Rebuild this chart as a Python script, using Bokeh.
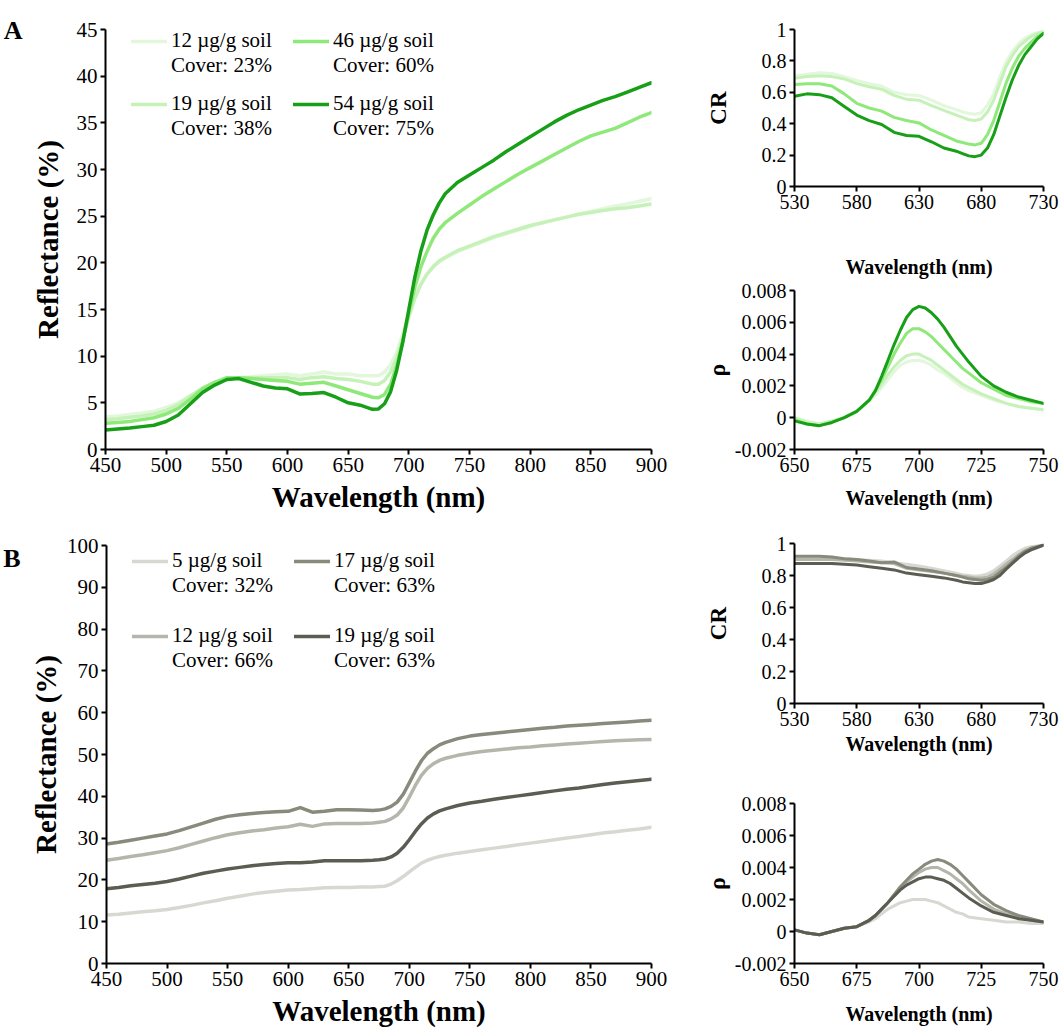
from bokeh.plotting import figure
from bokeh.models import Range1d, FixedTicker, Legend, LegendItem, LinearAxis
from bokeh.layouts import row, column
from bokeh.embed import file_html
from bokeh.resources import INLINE

FONT = "Liberation Serif"

# ---------------- data ----------------
wl = [450, 460, 470, 480, 490, 500, 510, 520, 530, 540, 550, 560, 570, 580, 590, 600, 610, 620, 630, 640, 650, 660, 670,
      675, 680, 685, 690, 695, 700, 705, 710, 715, 720, 725, 730,
      740, 750, 760, 770, 780, 790, 800, 810, 820, 830, 840, 850, 860, 870, 880, 890, 900]

a_names = ["12 µg/g soil", "19 µg/g soil", "46 µg/g soil", "54 µg/g soil"]
a_covers = ["Cover: 23%", "Cover: 38%", "Cover: 60%", "Cover: 75%"]
a_colors = ["#e2f7dc", "#c6f2b9", "#8fe97a", "#17a017"]

refl_a_12 = [3.5, 3.6, 3.75, 3.9, 4.1, 4.5, 5.0, 5.8, 6.6, 7.1, 7.5, 7.7, 7.8, 7.9, 8.0, 8.1, 7.9, 8.1, 8.3, 8.1, 8.1, 7.9, 7.9,
             7.9, 8.3, 9.1, 10.4, 12.4, 14.5, 16.4, 17.8, 18.8, 19.5, 20.1, 20.5,
             21.2, 21.7, 22.2, 22.7, 23.1, 23.5, 23.9, 24.3, 24.6, 24.9, 25.2, 25.5, 25.8, 26.1, 26.3, 26.6, 26.9]
refl_a_19 = [3.2, 3.3, 3.45, 3.6, 3.8, 4.2, 4.8, 5.7, 6.6, 7.2, 7.5, 7.7, 7.7, 7.7, 7.7, 7.7, 7.5, 7.7, 7.8, 7.6, 7.5, 7.3, 7.0,
             7.0, 7.4, 8.3, 9.8, 11.9, 14.2, 16.2, 17.7, 18.8, 19.6, 20.2, 20.6,
             21.3, 21.8, 22.3, 22.8, 23.2, 23.6, 24.0, 24.3, 24.6, 24.9, 25.2, 25.4, 25.6, 25.8, 25.9, 26.1, 26.3]
refl_a_46 = [2.8, 2.9, 3.0, 3.2, 3.4, 3.8, 4.4, 5.4, 6.5, 7.2, 7.7, 7.7, 7.6, 7.5, 7.4, 7.3, 7.0, 7.1, 7.2, 6.8, 6.4, 6.0, 5.6,
             5.55, 5.9, 7.0, 9.0, 11.6, 14.6, 17.4, 19.6, 21.2, 22.6, 23.6, 24.3,
             25.3, 26.2, 27.1, 27.9, 28.7, 29.5, 30.2, 30.9, 31.6, 32.3, 33.0, 33.6, 34.0, 34.4, 35.0, 35.6, 36.1]
refl_a_54 = [2.1, 2.2, 2.3, 2.45, 2.6, 3.0, 3.7, 4.9, 6.1, 6.9, 7.5, 7.6, 7.2, 6.8, 6.6, 6.5, 5.95, 6.0, 6.1, 5.6, 5.0, 4.75, 4.3,
             4.35, 4.9, 6.2, 8.5, 11.5, 15.0, 18.5, 21.3, 23.5, 25.1, 26.4, 27.4,
             28.6, 29.4, 30.2, 31.0, 31.9, 32.7, 33.5, 34.3, 35.1, 35.8, 36.4, 36.9, 37.4, 37.8, 38.3, 38.8, 39.3]

b_names = ["5 µg/g soil", "12 µg/g soil", "17 µg/g soil", "19 µg/g soil"]
b_covers = ["Cover: 32%", "Cover: 66%", "Cover: 63%", "Cover: 63%"]
b_colors = ["#d8d8d2", "#b5b6ab", "#888a7b", "#5b5d52"]

refl_b_5 = [11.6, 11.8, 12.1, 12.4, 12.6, 12.9, 13.4, 13.9, 14.5, 15.0, 15.6, 16.1, 16.6, 17.0, 17.3, 17.6, 17.7, 17.9, 18.1, 18.2, 18.2, 18.3, 18.3,
            18.4, 18.5, 19.0, 19.8, 20.8, 21.9, 23.0, 24.0, 24.7, 25.2, 25.6, 25.9,
            26.4, 26.8, 27.2, 27.6, 28.0, 28.4, 28.8, 29.2, 29.6, 30.0, 30.4, 30.8, 31.2, 31.5, 31.9, 32.2, 32.6]
refl_b_12 = [24.7, 25.1, 25.6, 26.0, 26.5, 27.0, 27.7, 28.5, 29.3, 30.1, 30.8, 31.3, 31.7, 32.0, 32.4, 32.7, 33.3, 32.8, 33.4, 33.5, 33.5, 33.5, 33.6,
             33.8, 34.0, 34.6, 35.5, 37.2, 39.8, 42.6, 45.0, 46.7, 47.8, 48.6, 49.1,
             49.8, 50.3, 50.7, 51.0, 51.3, 51.6, 51.8, 52.1, 52.3, 52.5, 52.7, 52.9, 53.1, 53.3, 53.4, 53.5, 53.6]
refl_b_17 = [28.6, 29.0, 29.5, 30.0, 30.5, 31.0, 31.8, 32.7, 33.6, 34.5, 35.2, 35.6, 35.9, 36.1, 36.3, 36.4, 37.3, 36.2, 36.4, 36.8, 36.8, 36.7, 36.6,
             36.7, 37.0, 37.6, 38.6, 40.5, 43.2, 46.0, 48.5, 50.3, 51.4, 52.3, 52.9,
             53.8, 54.4, 54.8, 55.1, 55.4, 55.7, 56.0, 56.3, 56.5, 56.8, 57.0, 57.2, 57.4, 57.6, 57.8, 58.0, 58.2]
refl_b_19 = [17.9, 18.2, 18.6, 18.9, 19.2, 19.6, 20.2, 20.9, 21.6, 22.1, 22.6, 23.0, 23.4, 23.7, 23.9, 24.1, 24.1, 24.3, 24.6, 24.6, 24.6, 24.6, 24.7,
             24.8, 25.0, 25.5, 26.4, 27.8, 29.6, 31.6, 33.4, 34.8, 35.8, 36.5, 37.0,
             37.8, 38.4, 38.8, 39.3, 39.7, 40.1, 40.5, 40.9, 41.3, 41.7, 42.0, 42.4, 42.8, 43.2, 43.5, 43.8, 44.1]

wl_cr = [530, 540, 550, 560, 570, 580, 590, 600, 610, 620, 630, 640, 650,
         660, 665, 670, 675, 680, 685, 690, 695, 700, 705, 710, 715, 720, 725, 730]
cr_a_12 = [0.705, 0.715, 0.725, 0.72, 0.70, 0.675, 0.655, 0.64, 0.60, 0.585, 0.58, 0.55, 0.515,
           0.49, 0.475, 0.465, 0.46, 0.47, 0.52, 0.59, 0.70, 0.795, 0.86, 0.91, 0.945, 0.965, 0.98, 0.99]
cr_a_19 = [0.69, 0.70, 0.705, 0.70, 0.685, 0.655, 0.635, 0.62, 0.58, 0.555, 0.55, 0.515, 0.485,
           0.455, 0.44, 0.425, 0.42, 0.43, 0.475, 0.55, 0.66, 0.765, 0.835, 0.89, 0.925, 0.955, 0.975, 0.985]
cr_a_46 = [0.65, 0.655, 0.655, 0.64, 0.59, 0.53, 0.50, 0.48, 0.44, 0.42, 0.405, 0.36, 0.325,
           0.29, 0.28, 0.27, 0.265, 0.275, 0.33, 0.42, 0.54, 0.66, 0.755, 0.83, 0.88, 0.92, 0.955, 0.975]
cr_a_54 = [0.575, 0.59, 0.585, 0.565, 0.51, 0.455, 0.42, 0.395, 0.345, 0.325, 0.32, 0.285, 0.245,
           0.225, 0.21, 0.195, 0.19, 0.20, 0.245, 0.33, 0.45, 0.57, 0.68, 0.77, 0.84, 0.89, 0.94, 0.975]

cr_b_5 = [0.91, 0.91, 0.915, 0.91, 0.905, 0.90, 0.895, 0.89, 0.88, 0.87, 0.86, 0.845, 0.83,
          0.815, 0.805, 0.80, 0.795, 0.80, 0.81, 0.83, 0.86, 0.89, 0.925, 0.95, 0.97, 0.98, 0.985, 0.99]
cr_b_12 = [0.90, 0.90, 0.90, 0.90, 0.895, 0.89, 0.885, 0.88, 0.875, 0.845, 0.835, 0.825, 0.815,
           0.80, 0.795, 0.79, 0.785, 0.785, 0.79, 0.81, 0.84, 0.87, 0.90, 0.93, 0.955, 0.97, 0.98, 0.99]
cr_b_17 = [0.92, 0.92, 0.92, 0.915, 0.905, 0.90, 0.89, 0.88, 0.885, 0.85, 0.84, 0.83, 0.815,
           0.80, 0.79, 0.78, 0.775, 0.77, 0.775, 0.79, 0.82, 0.85, 0.885, 0.92, 0.95, 0.97, 0.98, 0.99]
cr_b_19 = [0.875, 0.875, 0.875, 0.875, 0.87, 0.865, 0.855, 0.845, 0.835, 0.815, 0.805, 0.795, 0.785,
           0.77, 0.76, 0.755, 0.75, 0.75, 0.76, 0.775, 0.80, 0.84, 0.875, 0.91, 0.94, 0.96, 0.975, 0.99]

wl_d = [650, 655, 660, 665, 670, 675, 680, 682.5, 685, 687.5, 690, 692.5, 695, 697.5, 700,
        702.5, 705, 707.5, 710, 712.5, 715, 717.5, 720, 725, 730, 735, 740, 745, 750]
d_a_12 = [0.0000, -0.0002, -0.0004, -0.0002, 0.0000, 0.0004, 0.0010, 0.0014, 0.0019, 0.0024, 0.0029, 0.0033, 0.0035, 0.0036, 0.0036,
          0.0035, 0.0033, 0.0030, 0.0028, 0.0025, 0.0022, 0.0019, 0.0017, 0.0014, 0.0011, 0.0009, 0.0007, 0.0006, 0.0005]
d_a_19 = [0.0000, -0.0003, -0.0004, -0.0002, 0.0000, 0.0004, 0.0011, 0.0016, 0.0021, 0.0027, 0.0032, 0.0036, 0.0039, 0.0040, 0.0040,
          0.0038, 0.0036, 0.0033, 0.0030, 0.0027, 0.0024, 0.0021, 0.0019, 0.0015, 0.0012, 0.0009, 0.0007, 0.0006, 0.0005]
d_a_46 = [-0.0001, -0.0004, -0.0005, -0.0003, 0.0000, 0.0004, 0.0011, 0.0017, 0.0024, 0.0032, 0.0040, 0.0047, 0.0053, 0.0056, 0.0056,
          0.0054, 0.0051, 0.0047, 0.0043, 0.0039, 0.0035, 0.0031, 0.0028, 0.0022, 0.0018, 0.0014, 0.0012, 0.0010, 0.0009]
d_a_54 = [-0.0002, -0.0004, -0.0005, -0.0003, 0.0000, 0.0004, 0.0011, 0.0017, 0.0026, 0.0036, 0.0046, 0.0055, 0.0063, 0.0068, 0.0070,
          0.0069, 0.0066, 0.0062, 0.0057, 0.0051, 0.0045, 0.0040, 0.0035, 0.0026, 0.0020, 0.0016, 0.0013, 0.0011, 0.0009]

d_b_5 = [0.0001, -0.0001, -0.0002, 0.0000, 0.0002, 0.0003, 0.0006, 0.0008, 0.0011, 0.0014, 0.0016, 0.0018, 0.0019, 0.0020, 0.0020,
         0.0020, 0.0019, 0.0018, 0.0016, 0.0014, 0.0012, 0.0011, 0.0009, 0.0008, 0.0007, 0.0006, 0.0006, 0.0005, 0.0005]
d_b_12 = [0.0001, -0.0001, -0.0002, 0.0000, 0.0002, 0.0003, 0.0007, 0.0010, 0.0014, 0.0018, 0.0023, 0.0027, 0.0031, 0.0034, 0.0037,
          0.0039, 0.0040, 0.0040, 0.0038, 0.0036, 0.0033, 0.0030, 0.0026, 0.0019, 0.0014, 0.0011, 0.0009, 0.0007, 0.0006]
d_b_17 = [0.0001, -0.0001, -0.0002, 0.0000, 0.0002, 0.0003, 0.0007, 0.0010, 0.0014, 0.0018, 0.0023, 0.0028, 0.0032, 0.0036, 0.0039,
          0.0042, 0.0044, 0.0045, 0.0044, 0.0042, 0.0039, 0.0035, 0.0031, 0.0023, 0.0017, 0.0013, 0.0010, 0.0008, 0.0006]
d_b_19 = [0.0001, -0.0001, -0.0002, 0.0000, 0.0002, 0.0003, 0.0007, 0.0010, 0.0014, 0.0018, 0.0022, 0.0026, 0.0029, 0.0031, 0.0033,
          0.0034, 0.0034, 0.0033, 0.0032, 0.0030, 0.0027, 0.0024, 0.0021, 0.0016, 0.0012, 0.0010, 0.0008, 0.0007, 0.0006]

# tick values and labels
ticks_main_x = [450, 500, 550, 600, 650, 700, 750, 800, 850, 900]
ticks_a_y = [0, 5, 10, 15, 20, 25, 30, 35, 40, 45]
ticks_b_y = [0, 10, 20, 30, 40, 50, 60, 70, 80, 90, 100]
ticks_cr_x = [530, 580, 630, 680, 730]
ticks_cr_y = [0, 0.2, 0.4, 0.6, 0.8, 1]
labels_cr_y = ["0", "0.2", "0.4", "0.6", "0.8", "1"]
ticks_d_x = [650, 675, 700, 725, 750]
ticks_d_y = [-0.002, 0, 0.002, 0.004, 0.006, 0.008]
labels_d_y = ["-0.002", "0", "0.002", "0.004", "0.006", "0.008"]


def make_fig(w, h, left, right, top, bottom, xr, yr):
    p = figure(width=w, height=h, output_backend="svg", toolbar_location=None,
               x_range=Range1d(*xr), y_range=Range1d(*yr),
               min_border_left=left, min_border_right=right,
               min_border_top=top, min_border_bottom=bottom)
    p.xgrid.visible = False
    p.ygrid.visible = False
    p.outline_line_color = None
    p.background_fill_color = "white"
    p.border_fill_color = "white"
    return p


def style_axes(p, xticks, yticks, xtitle, ytitle, tick_size, title_size,
               x_standoff, y_standoff, ylabels=None, ytitle_size=None, lw=2):
    ax_x = p.xaxis[0]
    ax_y = p.yaxis[0]
    ax_x.ticker = FixedTicker(ticks=xticks)
    ax_y.ticker = FixedTicker(ticks=yticks)
    if ylabels is not None:
        ax_y.major_label_overrides = {t: s for t, s in zip(yticks, ylabels)}
    ax_x.axis_label = xtitle
    ax_y.axis_label = ytitle
    ax_x.axis_label_standoff = x_standoff
    ax_y.axis_label_standoff = y_standoff
    for ax in (ax_x, ax_y):
        ax.axis_line_width = lw
        ax.axis_line_color = "black"
        ax.major_tick_line_width = lw
        ax.major_tick_line_color = "black"
        ax.major_tick_out = 5
        ax.major_tick_in = 0
        ax.minor_tick_line_color = None
        ax.major_label_standoff = 3
        ax.major_label_text_font = FONT
        ax.major_label_text_font_size = tick_size
        ax.major_label_text_color = "black"
        ax.axis_label_text_font = FONT
        ax.axis_label_text_font_style = "bold"
        ax.axis_label_text_font_size = title_size
        ax.axis_label_text_color = "black"
    if ytitle_size is not None:
        ax_y.axis_label_text_font_size = ytitle_size


def add_lines(p, x, series, colors, width):
    rs = []
    for ys, c in zip(series, colors):
        rs.append(p.line(x, ys, line_color=c, line_width=width, line_join="round", line_cap="round"))
    return rs


def add_legend_entry(p, renderer, name, cover, loc):
    # second row ("Cover: ..") uses an invisible glyph so the text sits under the name
    blank = p.line(x=[], y=[], line_alpha=0)
    leg = Legend(items=[LegendItem(label=name, renderers=[renderer]),
                        LegendItem(label=cover, renderers=[blank])],
                 location=loc, orientation="vertical", spacing=-8,
                 padding=0, margin=0, border_line_color=None, background_fill_alpha=0,
                 glyph_width=36, glyph_height=20, label_standoff=4, label_height=20,
                 label_text_font=FONT, label_text_font_size="21px",
                 label_text_color="black")
    p.add_layout(leg, "center")


def panel_letter(p, letter, value):
    ax = LinearAxis(ticker=FixedTicker(ticks=[value]),
                    major_label_overrides={value: letter},
                    axis_line_color=None, major_tick_line_color=None, minor_tick_line_color=None,
                    major_label_standoff=0, major_label_text_font=FONT,
                    major_label_text_font_style="bold", major_label_text_font_size="26px",
                    major_label_text_color="black")
    p.add_layout(ax, "left")


# ---------------- Panel A main ----------------
pA = make_fig(700, 520, 102, 49, 29, 71, (450, 900), (0, 45))
style_axes(pA, ticks_main_x, ticks_a_y, "Wavelength (nm)", "Reflectance (%)", "21px", "29px", 6, 10)
rA = add_lines(pA, wl, [refl_a_12, refl_a_19, refl_a_46, refl_a_54], a_colors, 3.5)
add_legend_entry(pA, rA[0], a_names[0], a_covers[0], (26, 371))
add_legend_entry(pA, rA[1], a_names[1], a_covers[1], (26, 308))
add_legend_entry(pA, rA[2], a_names[2], a_covers[2], (188, 371))
add_legend_entry(pA, rA[3], a_names[3], a_covers[3], (188, 308))
panel_letter(pA, "A", 44.9)

# ---------------- Panel A CR ----------------
pCRA = make_fig(361, 280, 87, 18, 29, 92, (530, 730), (0, 1))
style_axes(pCRA, ticks_cr_x, ticks_cr_y, "Wavelength (nm)", "CR", "20px", "20px", 44, 28, labels_cr_y, "23px")
add_lines(pCRA, wl_cr, [cr_a_12, cr_a_19, cr_a_46, cr_a_54], a_colors, 3)

# ---------------- Panel A derivative ----------------
pDA = make_fig(361, 240, 87, 18, 10, 71, (650, 750), (-0.002, 0.008))
style_axes(pDA, ticks_d_x, ticks_d_y, "Wavelength (nm)", "ρ", "20px", "20px", 12, 2, labels_d_y, "24px")
add_lines(pDA, wl_d, [d_a_12, d_a_19, d_a_46, d_a_54], a_colors, 3)

# ---------------- Panel B main ----------------
pB = make_fig(700, 510, 102, 49, 25, 67, (450, 900), (0, 100))
style_axes(pB, ticks_main_x, ticks_b_y, "Wavelength (nm)", "Reflectance (%)", "21px", "29px", 6, 2)
rB = add_lines(pB, wl, [refl_b_5, refl_b_12, refl_b_17, refl_b_19], b_colors, 3.5)
add_legend_entry(pB, rB[0], b_names[0], b_covers[0], (26, 365))
add_legend_entry(pB, rB[1], b_names[1], b_covers[1], (26, 290))
add_legend_entry(pB, rB[2], b_names[2], b_covers[2], (188, 365))
add_legend_entry(pB, rB[3], b_names[3], b_covers[3], (188, 290))
panel_letter(pB, "B", 96.9)

# ---------------- Panel B CR ----------------
pCRB = make_fig(361, 250, 87, 18, 23, 67, (530, 730), (0, 1))
style_axes(pCRB, ticks_cr_x, ticks_cr_y, "Wavelength (nm)", "CR", "20px", "20px", 4, 28, labels_cr_y, "23px")
add_lines(pCRB, wl_cr, [cr_b_5, cr_b_12, cr_b_17, cr_b_19], b_colors, 3)

# ---------------- Panel B derivative ----------------
pDB = make_fig(361, 260, 87, 18, 33, 67, (650, 750), (-0.002, 0.008))
style_axes(pDB, ticks_d_x, ticks_d_y, "Wavelength (nm)", "ρ", "20px", "20px", 14, 2, labels_d_y, "24px")
add_lines(pDB, wl_d, [d_b_5, d_b_12, d_b_17, d_b_19], b_colors, 3)

layout = column(row(pA, column(pCRA, pDA)), row(pB, column(pCRB, pDB)))

open("out.html", "w").write(file_html(layout, INLINE))
